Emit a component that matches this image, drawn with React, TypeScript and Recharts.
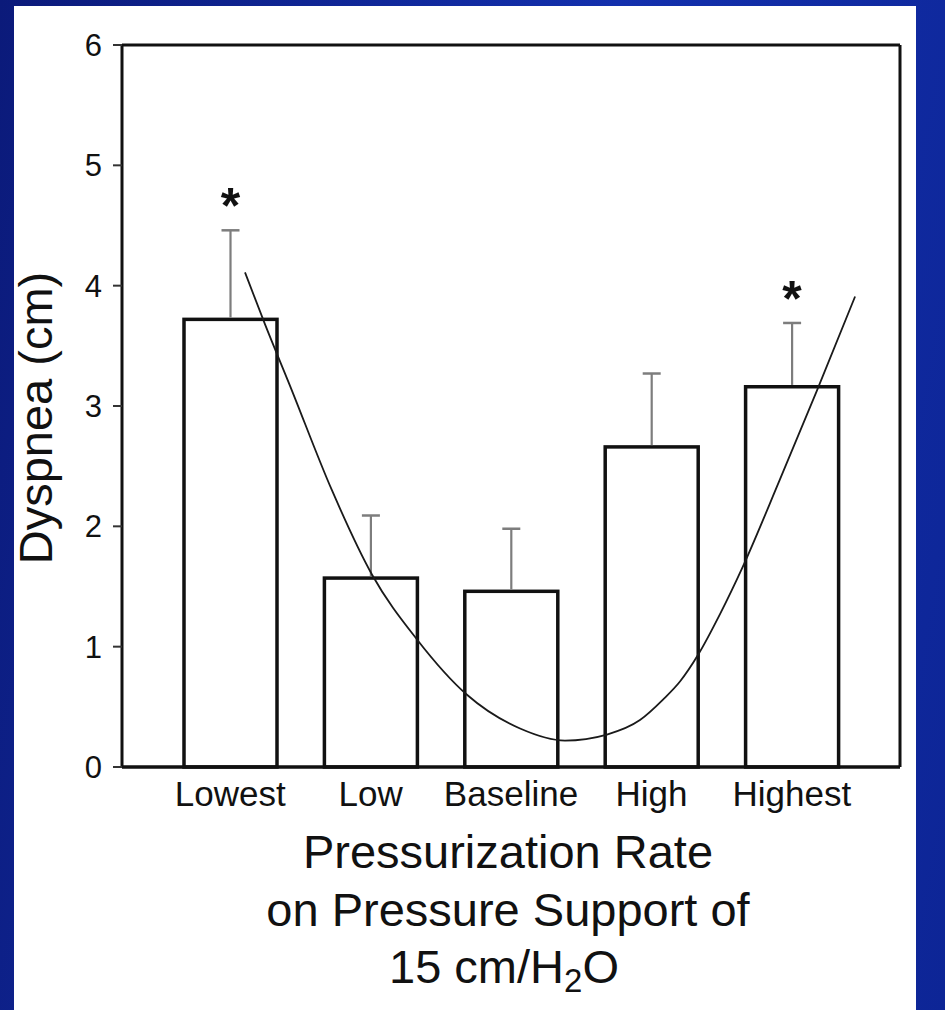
import { Bar, ComposedChart, Line, ReferenceLine, XAxis, YAxis } from "recharts";

const categories = ["Lowest", "Low", "Baseline", "High", "Highest"];
const dyspnea = [3.72, 1.57, 1.46, 2.66, 3.16];
const sem = [0.74, 0.52, 0.52, 0.61, 0.53];
const significant = [true, false, false, false, true];

// fitted curve (x in category index units)
const fitX = [0.107, 0.249, 0.427, 0.726, 1.011, 1.332, 1.688, 2.066, 2.386, 2.685, 2.92, 3.084, 3.205, 3.333, 3.49, 3.647, 3.917, 4.181, 4.452];
const fitY = [4.11, 3.68, 3.17, 2.3, 1.6, 1.06, 0.6, 0.32, 0.22, 0.27, 0.39, 0.56, 0.71, 0.93, 1.27, 1.65, 2.39, 3.13, 3.91];

const yTicks = [0, 1, 2, 3, 4, 5, 6];
const fitDomain = [-0.769, 4.772];
const titleLines = ["Pressurization Rate", "on Pressure Support of"];

const barData = categories.map((name, i) => ({
  name,
  dyspnea: dyspnea[i],
  sem: sem[i],
  star: significant[i],
}));
const fitData = fitX.map((x, i) => ({ x, y: fitY[i] }));

const FONT = '"Liberation Sans", Arial, Helvetica, sans-serif';

function BarWithError(props: any) {
  const { x, y, width, height, payload } = props;
  const cx = x + width / 2;
  const pxPerUnit = height / payload.dyspnea;
  const top = y - payload.sem * pxPerUnit;
  return (
    <g>
      <rect x={x} y={y} width={width} height={height} fill="#fff" stroke="#111" strokeWidth={3.5} />
      <line x1={cx} y1={y - 1.8} x2={cx} y2={top} stroke="#7d7d7d" strokeWidth={2.2} />
      <line x1={cx - 9} y1={top} x2={cx + 9} y2={top} stroke="#7d7d7d" strokeWidth={2.5} />
      {payload.star && (
        <text x={cx} y={top - 7} textAnchor="middle" fontSize={50} fontWeight="bold" fontFamily={FONT} fill="#111">
          *
        </text>
      )}
    </g>
  );
}

function YLabel(props: any) {
  const { viewBox } = props;
  const cy = viewBox.y + viewBox.height / 2 + 12;
  return (
    <text
      x={35}
      y={cy}
      transform={`rotate(-90, 35, ${cy})`}
      textAnchor="middle"
      dominantBaseline="central"
      fontSize={47}
      fontFamily={FONT}
      fill="#111"
    >
      Dyspnea (cm)
    </text>
  );
}

function XTitle(props: any) {
  const { viewBox } = props;
  const cx = viewBox.x + viewBox.width / 2 - 3;
  const base = viewBox.y;
  return (
    <g fontSize={47} fontFamily={FONT} fill="#111" textAnchor="middle">
      <text x={cx} y={base + 101}>{titleLines[0]}</text>
      <text x={cx} y={base + 159}>{titleLines[1]}</text>
      <text x={cx - 4} y={base + 216}>
        15 cm/H
        <tspan fontSize={33} dy={9}>2</tspan>
        <tspan dy={-9}>O</tspan>
      </text>
    </g>
  );
}

export default function App() {
  return (
    <div
      style={{
        position: "absolute",
        left: 0,
        top: 0,
        width: 945,
        height: 1010,
        overflow: "hidden",
        background: "linear-gradient(100deg, #0b1a7a 0%, #1330ad 55%, #0d2596 100%)",
      }}
    >
      <div style={{ position: "absolute", left: 14, top: 6, width: 902, height: 1004, background: "#fff" }} />
      <div style={{ position: "absolute", left: 0, top: 0 }}>
        <ComposedChart
          width={945}
          height={1010}
          data={barData}
          margin={{ top: 45, right: 45, bottom: 203, left: 42 }}
        >
          <XAxis
            xAxisId="cat"
            dataKey="name"
            padding={{ left: 38, right: 38 }}
            height={40}
            axisLine={{ stroke: "#111", strokeWidth: 3.5 }}
            tickLine={false}
            tickSize={0}
            tickMargin={14}
            tick={{ fontSize: 35, fontFamily: FONT, fill: "#111" }}
            interval={0}
            label={XTitle}
          />
          <XAxis xAxisId="fit" type="number" dataKey="x" domain={fitDomain} allowDataOverflow hide />
          <YAxis
            yAxisId="left"
            domain={[0, 6]}
            ticks={yTicks}
            width={80}
            axisLine={{ stroke: "#111", strokeWidth: 3 }}
            tickLine={{ stroke: "#333", strokeWidth: 2 }}
            tickSize={9}
            tickMargin={11}
            tick={{ fontSize: 31, fontFamily: FONT, fill: "#111" }}
            label={YLabel}
          />
          <ReferenceLine xAxisId="fit" yAxisId="left" y={6} stroke="#111" strokeWidth={3} />
          <ReferenceLine xAxisId="fit" yAxisId="left" x={fitDomain[1]} stroke="#111" strokeWidth={3} />
          <Bar
            xAxisId="cat"
            yAxisId="left"
            dataKey="dyspnea"
            barSize={93}
            shape={BarWithError}
            isAnimationActive={false}
          />
          <Line
            data={fitData}
            xAxisId="fit"
            yAxisId="left"
            dataKey="y"
            type="monotone"
            stroke="#1a1a1a"
            strokeWidth={1.8}
            dot={false}
            isAnimationActive={false}
          />
        </ComposedChart>
      </div>
    </div>
  );
}
